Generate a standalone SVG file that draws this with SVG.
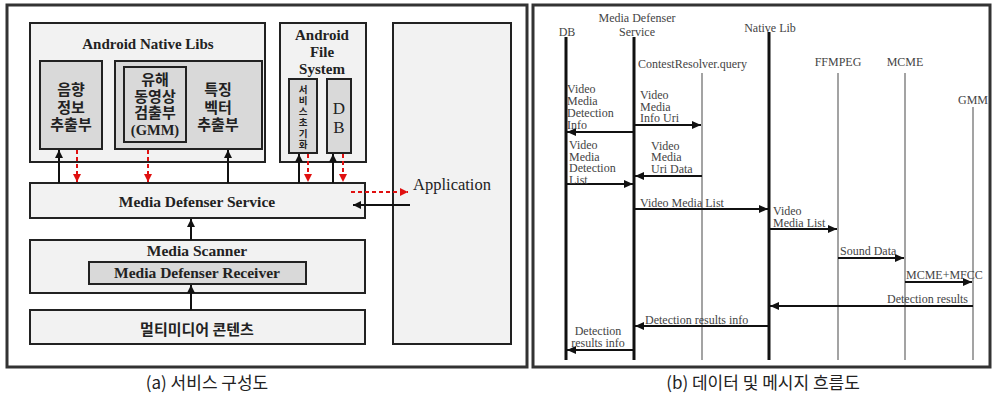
<svg xmlns="http://www.w3.org/2000/svg" width="993" height="400" viewBox="0 0 993 400">
<style>
.frame{fill:#fff;stroke:#333;stroke-width:3}
.box{fill:#f2f2f2;stroke:#222;stroke-width:2}
.ibox{fill:#d9d9d9;stroke:#222;stroke-width:2}
.lt{font-family:"Liberation Serif","Noto Sans CJK KR",serif;font-weight:bold;fill:#222;text-anchor:middle}
.ln{font-family:"Liberation Serif",serif;font-weight:normal;fill:#222;text-anchor:middle}
.kr{font-family:"Noto Sans CJK KR","Liberation Serif",serif;font-weight:bold;fill:#222;text-anchor:middle}
.vk{font-family:"Noto Sans CJK KR",sans-serif;font-weight:bold;font-size:9.5px;fill:#222;text-anchor:middle}
.rt{font-family:"Liberation Serif",serif;font-size:12px;fill:#444}
.cap{font-family:"Noto Sans CJK KR","Liberation Sans",sans-serif;font-size:17px;fill:#222;text-anchor:middle}
.blk{stroke:#111;stroke-width:2;fill:none;marker-end:url(#ab)}
.red{stroke:#e01010;stroke-width:2;stroke-dasharray:4 3;fill:none;marker-end:url(#ar)}
.thick{stroke:#111;stroke-width:3}
.thin{stroke:#666;stroke-width:1.2}
.msg{stroke:#111;stroke-width:2;fill:none;marker-end:url(#am)}
</style>
<defs>
<marker id="ab" markerUnits="userSpaceOnUse" markerWidth="10" markerHeight="10" refX="8" refY="4" orient="auto"><path d="M0,0 L8,4 L0,8 z" fill="#111"/></marker>
<marker id="ar" markerUnits="userSpaceOnUse" markerWidth="10" markerHeight="10" refX="8" refY="4" orient="auto"><path d="M0,0 L8,4 L0,8 z" fill="#e01010"/></marker>
<marker id="am" markerUnits="userSpaceOnUse" markerWidth="12" markerHeight="10" refX="9" refY="4" orient="auto"><path d="M0,0 L9,4 L0,8 z" fill="#111"/></marker>
</defs>
<rect width="993" height="400" fill="#fff"/>
<rect class="frame" x="7" y="5" width="520" height="362"/>
<rect class="frame" x="533" y="5" width="457" height="362"/>

<g id="native-libs">
<rect class="box" x="30" y="23" width="235" height="139"/>
<text class="lt" x="148" y="49" font-size="15">Android Native Libs</text>
</g>
<g id="sound-extract">
<rect class="ibox" x="40" y="61" width="62" height="88"/>
<text class="kr" x="71" y="95" font-size="15">음향</text>
<text class="kr" x="71" y="113" font-size="15">정보</text>
<text class="kr" x="71" y="130" font-size="15">추출부</text>
</g>
<g id="feature-extract">
<rect class="ibox" x="115" y="61" width="147" height="88"/>
<text class="kr" x="218" y="95" font-size="15">특징</text>
<text class="kr" x="218" y="113" font-size="15">벡터</text>
<text class="kr" x="218" y="130" font-size="15">추출부</text>
</g>
<g id="gmm-detect">
<rect class="ibox" x="124" y="67" width="62" height="75"/>
<text class="kr" x="155" y="85" font-size="15">유해</text>
<text class="kr" x="155" y="102" font-size="15">동영상</text>
<text class="kr" x="155" y="118" font-size="15">검출부</text>
<text class="lt" x="155" y="135" font-size="14.5">(GMM)</text>
</g>
<g id="file-system">
<rect class="box" x="280" y="23" width="86" height="139"/>
<text class="lt" x="322" y="40" font-size="15">Android</text>
<text class="lt" x="322" y="57" font-size="15">File</text>
<text class="lt" x="322" y="74" font-size="15">System</text>
</g>
<g id="service-init">
<rect class="ibox" x="289" y="79" width="28" height="74"/>
<text class="vk" x="303" y="93">서</text>
<text class="vk" x="303" y="104">비</text>
<text class="vk" x="303" y="115">스</text>
<text class="vk" x="303" y="126">초</text>
<text class="vk" x="303" y="137">기</text>
<text class="vk" x="303" y="148">화</text>
</g>
<g id="db-box">
<rect class="ibox" x="327" y="79" width="24" height="74"/>
<text class="ln" x="339" y="114" font-size="17">D</text>
<text class="ln" x="339" y="133" font-size="17">B</text>
</g>
<g id="application">
<rect class="box" x="393" y="23" width="118" height="321"/>
<text class="ln" x="452" y="190" font-size="16.5">Application</text>
</g>
<g id="mds">
<rect class="box" x="30" y="183" width="335" height="35"/>
<text class="lt" x="197" y="207" font-size="15.5">Media Defenser Service</text>
</g>
<g id="media-scanner">
<rect class="box" x="30" y="240" width="335" height="53"/>
<text class="lt" x="197" y="256" font-size="15.5">Media Scanner</text>
</g>
<g id="mdr">
<rect class="ibox" x="89" y="262" width="217" height="22"/>
<text class="lt" x="197" y="278" font-size="15.5">Media Defenser Receiver</text>
</g>
<g id="multimedia">
<rect class="box" x="30" y="310" width="335" height="34"/>
<text class="kr" x="197" y="335" font-size="15">멀티미디어 콘텐츠</text>
</g>

<g id="connectors-a">
<path class="blk" d="M59,183 V150"/>
<path class="red" d="M77,150 V182"/>
<path class="red" d="M148,150 V182"/>
<path class="blk" d="M228,183 V150"/>
<path class="blk" d="M299,183 V154"/>
<path class="red" d="M308,154 V182"/>
<path class="blk" d="M333,183 V154"/>
<path class="red" d="M343,154 V182"/>
<path class="red" d="M351,192 H408"/>
<path class="blk" d="M410,205 H353"/>
<path class="blk" d="M191,240 V219"/>
<path class="blk" d="M191,310 V285"/>
</g>

<g id="ll-db">
<text class="rt" x="567" y="36" text-anchor="middle" font-size="13">DB</text>
<line class="thick" x1="566" y1="37" x2="566" y2="360"/>
</g>
<g id="ll-mds">
<text class="rt" x="637" y="22" text-anchor="middle" font-size="13">Media Defenser</text>
<text class="rt" x="637" y="36" text-anchor="middle" font-size="13">Service</text>
<line class="thick" x1="634" y1="37" x2="634" y2="360"/>
</g>
<g id="ll-resolver">
<text class="rt" x="638" y="68" font-size="13">ContestResolver.query</text>
<line class="thin" x1="702" y1="73" x2="702" y2="360"/>
</g>
<g id="ll-native">
<text class="rt" x="770" y="32" text-anchor="middle" font-size="13">Native Lib</text>
<line class="thick" x1="769" y1="32" x2="769" y2="360"/>
</g>
<g id="ll-ffmpeg">
<text class="rt" x="838" y="66" text-anchor="middle" font-size="13">FFMPEG</text>
<line class="thin" x1="838" y1="73" x2="838" y2="360"/>
</g>
<g id="ll-mcme">
<text class="rt" x="905" y="66" text-anchor="middle" font-size="13">MCME</text>
<line class="thin" x1="905" y1="73" x2="905" y2="360"/>
</g>
<g id="ll-gmm">
<text class="rt" x="973" y="104" text-anchor="middle" font-size="13">GMM</text>
<line class="thin" x1="973" y1="107" x2="973" y2="360" stroke="#888"/>
</g>

<g id="connectors-b">
<path class="msg" d="M634,125 H701"/>
<path class="msg" d="M634,132 H567"/>
<path class="msg" d="M702,176 H635"/>
<path class="msg" d="M566,184 H633"/>
<path class="msg" d="M634,209 H768"/>
<path class="msg" d="M769,229 H837"/>
<path class="msg" d="M838,258 H904"/>
<path class="msg" d="M905,282 H972"/>
<path class="msg" d="M973,306 H770"/>
<path class="msg" d="M769,326 H635"/>
<path class="msg" d="M634,350 H567"/>
</g>
<g id="msg-labels">
<text class="rt" x="640" y="99">Video</text>
<text class="rt" x="640" y="111">Media</text>
<text class="rt" x="640" y="122">Info Uri</text>
<text class="rt" x="567" y="93">Video</text>
<text class="rt" x="567" y="105">Media</text>
<text class="rt" x="567" y="117">Detection</text>
<text class="rt" x="567" y="129">Info</text>
<text class="rt" x="651" y="150">Video</text>
<text class="rt" x="651" y="161">Media</text>
<text class="rt" x="651" y="173">Uri Data</text>
<text class="rt" x="569" y="149">Video</text>
<text class="rt" x="569" y="161">Media</text>
<text class="rt" x="569" y="172">Detection</text>
<text class="rt" x="569" y="184">List</text>
<text class="rt" x="640" y="207">Video Media List</text>
<text class="rt" x="773" y="215">Video</text>
<text class="rt" x="773" y="227">Media List</text>
<text class="rt" x="840" y="255">Sound Data</text>
<text class="rt" x="906" y="279">MCME+MFCC</text>
<text class="rt" x="968" y="303" text-anchor="end">Detection results</text>
<text class="rt" x="645" y="324">Detection results info</text>
<text class="rt" x="598" y="335" text-anchor="middle">Detection</text>
<text class="rt" x="598" y="347" text-anchor="middle">results info</text>
</g>

<text class="cap" x="207" y="389">(a) 서비스 구성도</text>
<text class="cap" x="763" y="389">(b) 데이터 및 메시지 흐름도</text>
</svg>
